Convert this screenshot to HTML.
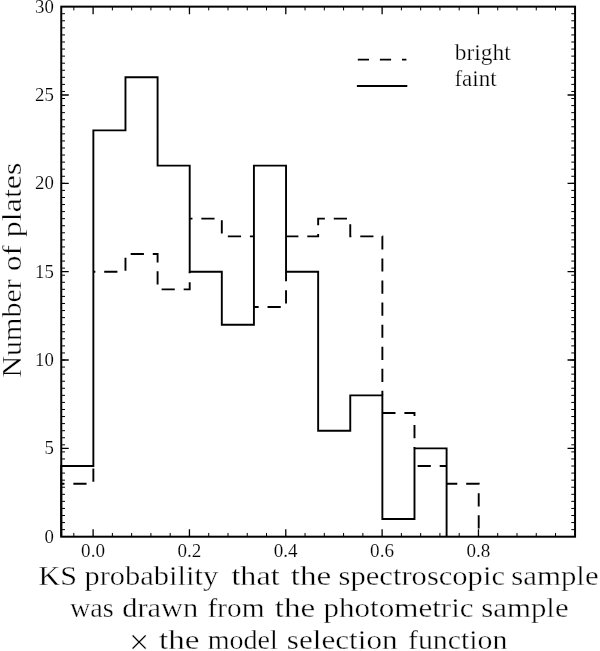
<!DOCTYPE html>
<html><head><meta charset="utf-8"><title>KS probability histogram</title>
<style>html,body{margin:0;padding:0;background:#fff}svg{display:block;will-change:transform}text{font-family:"Liberation Serif",serif;fill:#000;stroke:#fff;stroke-width:.35px}text.t{stroke-width:.15px}text.l{stroke-width:.25px}</style></head><body>
<svg width="600" height="651" viewBox="0 0 600 651">
<rect width="600" height="651" fill="#fff"/>
<g fill="none"><path d="M73.84 536.70v-3.75M73.84 6.65v3.75" stroke="#000" stroke-width="1.00"/><path d="M93.11 536.70v-7.50M93.11 6.65v7.50" stroke="#000" stroke-width="1.30"/><path d="M112.38 536.70v-3.75M112.38 6.65v3.75" stroke="#000" stroke-width="1.00"/><path d="M131.65 536.70v-3.75M131.65 6.65v3.75" stroke="#000" stroke-width="1.00"/><path d="M150.91 536.70v-3.75M150.91 6.65v3.75" stroke="#000" stroke-width="1.00"/><path d="M170.18 536.70v-3.75M170.18 6.65v3.75" stroke="#000" stroke-width="1.00"/><path d="M189.45 536.70v-7.50M189.45 6.65v7.50" stroke="#000" stroke-width="1.30"/><path d="M208.72 536.70v-3.75M208.72 6.65v3.75" stroke="#000" stroke-width="1.00"/><path d="M227.99 536.70v-3.75M227.99 6.65v3.75" stroke="#000" stroke-width="1.00"/><path d="M247.25 536.70v-3.75M247.25 6.65v3.75" stroke="#000" stroke-width="1.00"/><path d="M266.52 536.70v-3.75M266.52 6.65v3.75" stroke="#000" stroke-width="1.00"/><path d="M285.79 536.70v-7.50M285.79 6.65v7.50" stroke="#000" stroke-width="1.30"/><path d="M305.05 536.70v-3.75M305.05 6.65v3.75" stroke="#000" stroke-width="1.00"/><path d="M324.32 536.70v-3.75M324.32 6.65v3.75" stroke="#000" stroke-width="1.00"/><path d="M343.59 536.70v-3.75M343.59 6.65v3.75" stroke="#000" stroke-width="1.00"/><path d="M362.86 536.70v-3.75M362.86 6.65v3.75" stroke="#000" stroke-width="1.00"/><path d="M382.12 536.70v-7.50M382.12 6.65v7.50" stroke="#000" stroke-width="1.30"/><path d="M401.39 536.70v-3.75M401.39 6.65v3.75" stroke="#000" stroke-width="1.00"/><path d="M420.66 536.70v-3.75M420.66 6.65v3.75" stroke="#000" stroke-width="1.00"/><path d="M439.93 536.70v-3.75M439.93 6.65v3.75" stroke="#000" stroke-width="1.00"/><path d="M459.19 536.70v-3.75M459.19 6.65v3.75" stroke="#000" stroke-width="1.00"/><path d="M478.46 536.70v-7.50M478.46 6.65v7.50" stroke="#000" stroke-width="1.30"/><path d="M497.73 536.70v-3.75M497.73 6.65v3.75" stroke="#000" stroke-width="1.00"/><path d="M517.00 536.70v-3.75M517.00 6.65v3.75" stroke="#000" stroke-width="1.00"/><path d="M536.26 536.70v-3.75M536.26 6.65v3.75" stroke="#000" stroke-width="1.00"/><path d="M555.53 536.70v-3.75M555.53 6.65v3.75" stroke="#000" stroke-width="1.00"/><path d="M61.25 529.63h3.75M575.05 529.63h-3.75" stroke="#000" stroke-width="1.0"/><path d="M61.25 522.57h3.75M575.05 522.57h-3.75" stroke="#000" stroke-width="1.0"/><path d="M61.25 515.50h3.75M575.05 515.50h-3.75" stroke="#000" stroke-width="1.0"/><path d="M61.25 508.43h3.75M575.05 508.43h-3.75" stroke="#000" stroke-width="1.0"/><path d="M61.25 501.36h3.75M575.05 501.36h-3.75" stroke="#000" stroke-width="1.0"/><path d="M61.25 494.30h3.75M575.05 494.30h-3.75" stroke="#000" stroke-width="1.0"/><path d="M61.25 487.23h3.75M575.05 487.23h-3.75" stroke="#000" stroke-width="1.0"/><path d="M61.25 480.16h3.75M575.05 480.16h-3.75" stroke="#000" stroke-width="1.0"/><path d="M61.25 473.09h3.75M575.05 473.09h-3.75" stroke="#000" stroke-width="1.0"/><path d="M61.25 466.03h3.75M575.05 466.03h-3.75" stroke="#000" stroke-width="1.0"/><path d="M61.25 458.96h3.75M575.05 458.96h-3.75" stroke="#000" stroke-width="1.0"/><path d="M61.25 451.89h3.75M575.05 451.89h-3.75" stroke="#000" stroke-width="1.0"/><path d="M61.25 444.82h3.75M575.05 444.82h-3.75" stroke="#000" stroke-width="1.0"/><path d="M61.25 437.76h3.75M575.05 437.76h-3.75" stroke="#000" stroke-width="1.0"/><path d="M61.25 430.69h3.75M575.05 430.69h-3.75" stroke="#000" stroke-width="1.0"/><path d="M61.25 423.62h3.75M575.05 423.62h-3.75" stroke="#000" stroke-width="1.0"/><path d="M61.25 416.56h3.75M575.05 416.56h-3.75" stroke="#000" stroke-width="1.0"/><path d="M61.25 409.49h3.75M575.05 409.49h-3.75" stroke="#000" stroke-width="1.0"/><path d="M61.25 402.42h3.75M575.05 402.42h-3.75" stroke="#000" stroke-width="1.0"/><path d="M61.25 395.35h3.75M575.05 395.35h-3.75" stroke="#000" stroke-width="1.0"/><path d="M61.25 388.29h3.75M575.05 388.29h-3.75" stroke="#000" stroke-width="1.0"/><path d="M61.25 381.22h3.75M575.05 381.22h-3.75" stroke="#000" stroke-width="1.0"/><path d="M61.25 374.15h3.75M575.05 374.15h-3.75" stroke="#000" stroke-width="1.0"/><path d="M61.25 367.08h3.75M575.05 367.08h-3.75" stroke="#000" stroke-width="1.0"/><path d="M61.25 360.02h3.75M575.05 360.02h-3.75" stroke="#000" stroke-width="1.0"/><path d="M61.25 352.95h3.75M575.05 352.95h-3.75" stroke="#000" stroke-width="1.0"/><path d="M61.25 345.88h3.75M575.05 345.88h-3.75" stroke="#000" stroke-width="1.0"/><path d="M61.25 338.81h3.75M575.05 338.81h-3.75" stroke="#000" stroke-width="1.0"/><path d="M61.25 331.75h3.75M575.05 331.75h-3.75" stroke="#000" stroke-width="1.0"/><path d="M61.25 324.68h3.75M575.05 324.68h-3.75" stroke="#000" stroke-width="1.0"/><path d="M61.25 317.61h3.75M575.05 317.61h-3.75" stroke="#000" stroke-width="1.0"/><path d="M61.25 310.55h3.75M575.05 310.55h-3.75" stroke="#000" stroke-width="1.0"/><path d="M61.25 303.48h3.75M575.05 303.48h-3.75" stroke="#000" stroke-width="1.0"/><path d="M61.25 296.41h3.75M575.05 296.41h-3.75" stroke="#000" stroke-width="1.0"/><path d="M61.25 289.34h3.75M575.05 289.34h-3.75" stroke="#000" stroke-width="1.0"/><path d="M61.25 282.28h3.75M575.05 282.28h-3.75" stroke="#000" stroke-width="1.0"/><path d="M61.25 275.21h3.75M575.05 275.21h-3.75" stroke="#000" stroke-width="1.0"/><path d="M61.25 268.14h3.75M575.05 268.14h-3.75" stroke="#000" stroke-width="1.0"/><path d="M61.25 261.07h3.75M575.05 261.07h-3.75" stroke="#000" stroke-width="1.0"/><path d="M61.25 254.01h3.75M575.05 254.01h-3.75" stroke="#000" stroke-width="1.0"/><path d="M61.25 246.94h3.75M575.05 246.94h-3.75" stroke="#000" stroke-width="1.0"/><path d="M61.25 239.87h3.75M575.05 239.87h-3.75" stroke="#000" stroke-width="1.0"/><path d="M61.25 232.80h3.75M575.05 232.80h-3.75" stroke="#000" stroke-width="1.0"/><path d="M61.25 225.74h3.75M575.05 225.74h-3.75" stroke="#000" stroke-width="1.0"/><path d="M61.25 218.67h3.75M575.05 218.67h-3.75" stroke="#000" stroke-width="1.0"/><path d="M61.25 211.60h3.75M575.05 211.60h-3.75" stroke="#000" stroke-width="1.0"/><path d="M61.25 204.54h3.75M575.05 204.54h-3.75" stroke="#000" stroke-width="1.0"/><path d="M61.25 197.47h3.75M575.05 197.47h-3.75" stroke="#000" stroke-width="1.0"/><path d="M61.25 190.40h3.75M575.05 190.40h-3.75" stroke="#000" stroke-width="1.0"/><path d="M61.25 183.33h3.75M575.05 183.33h-3.75" stroke="#000" stroke-width="1.0"/><path d="M61.25 176.27h3.75M575.05 176.27h-3.75" stroke="#000" stroke-width="1.0"/><path d="M61.25 169.20h3.75M575.05 169.20h-3.75" stroke="#000" stroke-width="1.0"/><path d="M61.25 162.13h3.75M575.05 162.13h-3.75" stroke="#000" stroke-width="1.0"/><path d="M61.25 155.06h3.75M575.05 155.06h-3.75" stroke="#000" stroke-width="1.0"/><path d="M61.25 148.00h3.75M575.05 148.00h-3.75" stroke="#000" stroke-width="1.0"/><path d="M61.25 140.93h3.75M575.05 140.93h-3.75" stroke="#000" stroke-width="1.0"/><path d="M61.25 133.86h3.75M575.05 133.86h-3.75" stroke="#000" stroke-width="1.0"/><path d="M61.25 126.79h3.75M575.05 126.79h-3.75" stroke="#000" stroke-width="1.0"/><path d="M61.25 119.73h3.75M575.05 119.73h-3.75" stroke="#000" stroke-width="1.0"/><path d="M61.25 112.66h3.75M575.05 112.66h-3.75" stroke="#000" stroke-width="1.0"/><path d="M61.25 105.59h3.75M575.05 105.59h-3.75" stroke="#000" stroke-width="1.0"/><path d="M61.25 98.53h3.75M575.05 98.53h-3.75" stroke="#000" stroke-width="1.0"/><path d="M61.25 91.46h3.75M575.05 91.46h-3.75" stroke="#000" stroke-width="1.0"/><path d="M61.25 84.39h3.75M575.05 84.39h-3.75" stroke="#000" stroke-width="1.0"/><path d="M61.25 77.32h3.75M575.05 77.32h-3.75" stroke="#000" stroke-width="1.0"/><path d="M61.25 70.26h3.75M575.05 70.26h-3.75" stroke="#000" stroke-width="1.0"/><path d="M61.25 63.19h3.75M575.05 63.19h-3.75" stroke="#000" stroke-width="1.0"/><path d="M61.25 56.12h3.75M575.05 56.12h-3.75" stroke="#000" stroke-width="1.0"/><path d="M61.25 49.05h3.75M575.05 49.05h-3.75" stroke="#000" stroke-width="1.0"/><path d="M61.25 41.99h3.75M575.05 41.99h-3.75" stroke="#000" stroke-width="1.0"/><path d="M61.25 34.92h3.75M575.05 34.92h-3.75" stroke="#000" stroke-width="1.0"/><path d="M61.25 27.85h3.75M575.05 27.85h-3.75" stroke="#000" stroke-width="1.0"/><path d="M61.25 20.78h3.75M575.05 20.78h-3.75" stroke="#000" stroke-width="1.0"/><path d="M61.25 13.72h3.75M575.05 13.72h-3.75" stroke="#000" stroke-width="1.0"/><path d="M61.25 448.36h7.5M575.05 448.36h-7.5" stroke="#000" stroke-width="1.3"/><path d="M61.25 360.02h7.5M575.05 360.02h-7.5" stroke="#000" stroke-width="1.3"/><path d="M61.25 271.68h7.5M575.05 271.68h-7.5" stroke="#000" stroke-width="1.3"/><path d="M61.25 183.33h7.5M575.05 183.33h-7.5" stroke="#000" stroke-width="1.3"/><path d="M61.25 94.99h7.5M575.05 94.99h-7.5" stroke="#000" stroke-width="1.3"/></g>
<path d="M61.25 483.70 L93.36 483.70 L93.36 466.03" fill="none" stroke="#000" stroke-width="1.9" stroke-dasharray="13.20 8.88" stroke-dashoffset="9.98"/>
<path d="M93.36 271.68 L125.47 271.68 L125.47 254.01 L157.59 254.01 L157.59 289.34 L189.70 289.34 L189.70 271.68" fill="none" stroke="#000" stroke-width="1.9" stroke-dasharray="13.20 8.88" stroke-dashoffset="11.23"/>
<path d="M189.70 218.67 L221.81 218.67 L221.81 236.34 L253.92 236.34" fill="none" stroke="#000" stroke-width="1.9" stroke-dasharray="13.20 8.88" stroke-dashoffset="10.44"/>
<path d="M253.92 307.01 L286.04 307.01 L286.04 271.68" fill="none" stroke="#000" stroke-width="1.9" stroke-dasharray="13.20 8.88" stroke-dashoffset="8.45"/>
<path d="M286.04 236.34 L318.15 236.34 L318.15 218.67 L350.26 218.67 L350.26 236.34 L382.37 236.34 L382.37 395.35" fill="none" stroke="#000" stroke-width="1.9" stroke-dasharray="13.20 8.88" stroke-dashoffset="0.84"/>
<path d="M382.37 413.02 L414.49 413.02 L414.49 448.36" fill="none" stroke="#000" stroke-width="1.9" stroke-dasharray="13.20 8.88" stroke-dashoffset="0.07"/>
<path d="M414.49 466.03 L446.60 466.03" fill="none" stroke="#000" stroke-width="1.9" stroke-dasharray="13.20 8.88" stroke-dashoffset="18.95"/>
<path d="M446.60 483.70 L478.71 483.70 L478.71 536.70" fill="none" stroke="#000" stroke-width="1.9" stroke-dasharray="13.20 8.88" stroke-dashoffset="2.49"/>
<path d="M61.25 536.70 L61.25 466.03 L93.36 466.03 L93.36 130.33 L125.47 130.33 L125.47 77.32 L157.59 77.32 L157.59 165.66 L189.70 165.66 L189.70 271.68 L221.81 271.68 L221.81 324.68 L253.92 324.68 L253.92 165.66 L286.04 165.66 L286.04 271.68 L318.15 271.68 L318.15 430.69 L350.26 430.69 L350.26 395.35 L382.37 395.35 L382.37 519.03 L414.49 519.03 L414.49 448.36 L446.60 448.36 L446.60 536.70" fill="none" stroke="#000" stroke-width="1.9" stroke-linejoin="miter"/>
<rect x="61.25" y="6.65" width="513.80" height="530.05" fill="none" stroke="#000" stroke-width="2"/>
<path d="M357.8 59.6H406.4" stroke="#000" stroke-width="1.9" stroke-dasharray="11.2 10.9" fill="none"/>
<path d="M356.9 86H407.3" stroke="#000" stroke-width="1.9" fill="none"/>
<text class="l" x="454.8" y="59.9" font-size="22.5" textLength="55.9" lengthAdjust="spacingAndGlyphs">bright</text>
<text class="l" x="454.4" y="86.25" font-size="22.5" textLength="42.2" lengthAdjust="spacingAndGlyphs">faint</text>
<text class="t" x="53.8" y="542.70" font-size="19.0" text-anchor="end" textLength="9.4" lengthAdjust="spacingAndGlyphs">0</text>
<text class="t" x="53.8" y="454.36" font-size="19.0" text-anchor="end" textLength="9.4" lengthAdjust="spacingAndGlyphs">5</text>
<text class="t" x="53.8" y="366.02" font-size="19.0" text-anchor="end" textLength="18.8" lengthAdjust="spacingAndGlyphs">10</text>
<text class="t" x="53.8" y="277.68" font-size="19.0" text-anchor="end" textLength="18.8" lengthAdjust="spacingAndGlyphs">15</text>
<text class="t" x="53.8" y="189.33" font-size="19.0" text-anchor="end" textLength="18.8" lengthAdjust="spacingAndGlyphs">20</text>
<text class="t" x="53.8" y="100.99" font-size="19.0" text-anchor="end" textLength="18.8" lengthAdjust="spacingAndGlyphs">25</text>
<text class="t" x="53.8" y="12.65" font-size="19.0" text-anchor="end" textLength="18.8" lengthAdjust="spacingAndGlyphs">30</text>
<text class="t" x="93.06" y="556.80" font-size="19.0" text-anchor="middle" textLength="23.9" lengthAdjust="spacingAndGlyphs">0.0</text>
<text class="t" x="189.40" y="556.80" font-size="19.0" text-anchor="middle" textLength="23.9" lengthAdjust="spacingAndGlyphs">0.2</text>
<text class="t" x="285.74" y="556.80" font-size="19.0" text-anchor="middle" textLength="23.9" lengthAdjust="spacingAndGlyphs">0.4</text>
<text class="t" x="382.07" y="556.80" font-size="19.0" text-anchor="middle" textLength="23.9" lengthAdjust="spacingAndGlyphs">0.6</text>
<text class="t" x="478.41" y="556.80" font-size="19.0" text-anchor="middle" textLength="23.9" lengthAdjust="spacingAndGlyphs">0.8</text>
<text y="585.3" font-size="28"><tspan x="38.49" textLength="38.43" lengthAdjust="spacingAndGlyphs">KS</tspan> <tspan x="84.46" textLength="133.68" lengthAdjust="spacingAndGlyphs">probability</tspan> <tspan x="231.41" textLength="48.17" lengthAdjust="spacingAndGlyphs">that</tspan> <tspan x="290.70" textLength="40.44" lengthAdjust="spacingAndGlyphs">the</tspan> <tspan x="338.64" textLength="166.34" lengthAdjust="spacingAndGlyphs">spectroscopic</tspan> <tspan x="511.33" textLength="87.24" lengthAdjust="spacingAndGlyphs">sample</tspan></text>
<text y="617.1" font-size="28"><tspan x="70.00" textLength="43.75" lengthAdjust="spacingAndGlyphs">was</tspan> <tspan x="122.21" textLength="76.01" lengthAdjust="spacingAndGlyphs">drawn</tspan> <tspan x="207.52" textLength="56.94" lengthAdjust="spacingAndGlyphs">from</tspan> <tspan x="274.70" textLength="40.44" lengthAdjust="spacingAndGlyphs">the</tspan> <tspan x="323.45" textLength="150.14" lengthAdjust="spacingAndGlyphs">photometric</tspan> <tspan x="481.32" textLength="87.24" lengthAdjust="spacingAndGlyphs">sample</tspan></text>
<text x="129.1" y="654.4" font-size="36" textLength="20.2" lengthAdjust="spacingAndGlyphs">×</text>
<text y="648.8" font-size="28"><tspan x="159.00" textLength="40.44" lengthAdjust="spacingAndGlyphs">the</tspan> <tspan x="207.80" textLength="70.00" lengthAdjust="spacingAndGlyphs">model</tspan> <tspan x="286.81" textLength="110.78" lengthAdjust="spacingAndGlyphs">selection</tspan> <tspan x="408.00" textLength="99.33" lengthAdjust="spacingAndGlyphs">function</tspan></text>
<text transform="translate(21.3 376.8) rotate(-90)" y="0" font-size="28"><tspan x="-0.80" textLength="98.29" lengthAdjust="spacingAndGlyphs">Number</tspan> <tspan x="105.89" textLength="25.79" lengthAdjust="spacingAndGlyphs">of</tspan> <tspan x="139.63" textLength="74.58" lengthAdjust="spacingAndGlyphs">plates</tspan></text>
</svg></body></html>
